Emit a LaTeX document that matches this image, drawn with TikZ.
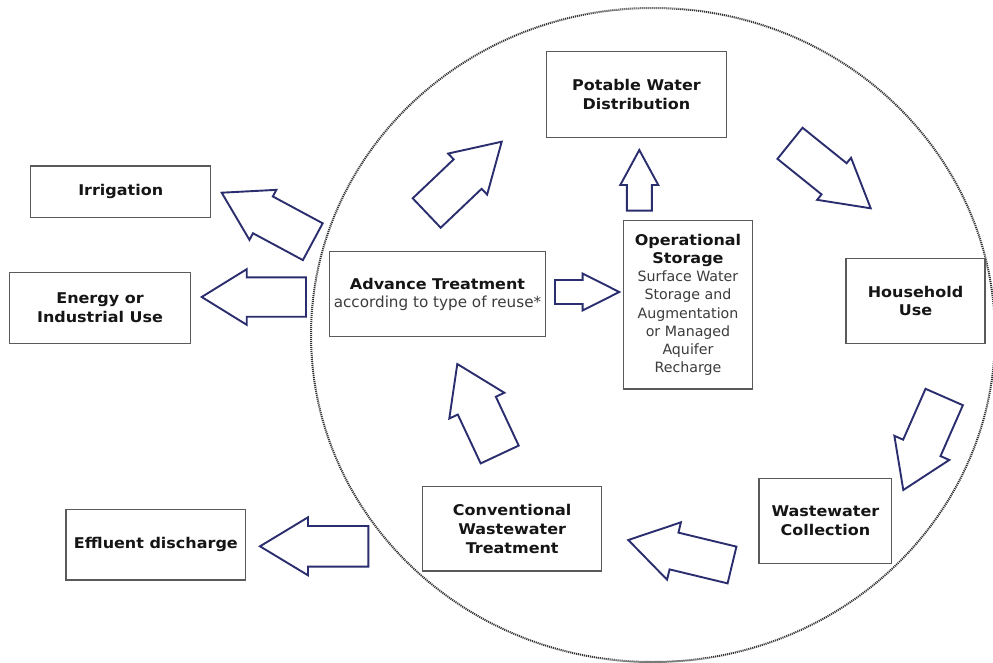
\documentclass[tikz,border=0pt]{standalone}
\usepackage{fontspec}
\setmainfont{DejaVu Sans}[BoldFeatures={FakeStretch=1.08}]
\usetikzlibrary{calc}
\definecolor{navy}{HTML}{2B2E6E}
\definecolor{boxgray}{HTML}{5A5A5A}
\definecolor{txtdark}{HTML}{151515}
\definecolor{txtgray}{HTML}{3C3C3C}
\definecolor{dotgray}{HTML}{333333}
\newcommand\blockarrow[5]{%
  \coordinate (ba-neck) at ($(#2)!#5!(#1)$);
  \draw[blockarr] ($(#1)!#3!90:(#2)$) -- ($(ba-neck)!#3!-90:(#1)$) -- ($(ba-neck)!#4!-90:(#1)$)
    -- (#2) -- ($(ba-neck)!#4!90:(#1)$) -- ($(ba-neck)!#3!90:(#1)$) -- ($(#1)!#3!-90:(#2)$) -- cycle;}
\newcommand\lighttext[1]{{\color{txtgray}\mdseries #1}}
\begin{document}
\begin{tikzpicture}[x=1pt,y=-1pt,
  box/.style={draw=boxgray, line width=1.2pt, fill=white, inner sep=0pt, align=center,
    text=txtdark, font=\fontsize{14.8}{18.6}\selectfont\bfseries},
  blockarr/.style={draw=navy, line width=1.9pt, fill=white, line join=miter},
  cyclering/.style={draw=dotgray, line width=2pt, dash pattern=on 1.1pt off 0.9pt}]
\useasboundingbox[fill=white] (0,0) rectangle (993,663);
% dotted boundary of the cycle
\draw[cyclering] (653,335) ellipse [x radius=342, y radius=327];

% boxes
\node[box, minimum width=179.3pt, minimum height=86pt] (pot) at (636.5,94.2) {Potable Water\\Distribution};
\node[box, minimum width=180pt, minimum height=51.3pt] (irr) at (120.7,191.7) {Irrigation};
\node[box, minimum width=181.4pt, minimum height=70.6pt] (ene) at (100,308) {Energy or\\Industrial Use};
\node[box, minimum width=216.4pt, minimum height=85pt] (adv) at (437.5,294.2)
  {Advance Treatment\\[-0.5pt]\lighttext{\fontsize{15.2}{18.6}\selectfont according to type of reuse*}};
\node[box, minimum width=129.4pt, minimum height=168.3pt, font=\fontsize{14.8}{18.2}\selectfont\bfseries] (ops) at (688,304.9)
  {Operational\\Storage\\\lighttext{\fontsize{14.2}{18.2}\selectfont Surface Water}\\\lighttext{\fontsize{14.2}{18.2}\selectfont Storage and}\\\lighttext{\fontsize{14.2}{18.2}\selectfont Augmentation}\\\lighttext{\fontsize{14.2}{18.2}\selectfont or Managed}\\\lighttext{\fontsize{14.2}{18.2}\selectfont Aquifer}\\\lighttext{\fontsize{14.2}{18.2}\selectfont Recharge}};
\node[box, minimum width=139pt, minimum height=85.5pt] (hou) at (915.5,301) {Household\\Use};
\node[box, minimum width=132.7pt, minimum height=85pt] (wwc) at (825.4,520.8) {Wastewater\\Collection};
\node[box, minimum width=179pt, minimum height=84.3pt] (cwt) at (512.2,528.9) {Conventional\\Wastewater\\Treatment};
\node[box, minimum width=179.7pt, minimum height=70.7pt] (eff) at (155.9,544.7) {Effluent discharge};

% arrow end points
\coordinate (a1t) at (426.7,213);   \coordinate (a1h) at (501.7,141.7);
\coordinate (a2t) at (639.3,210.7); \coordinate (a2h) at (639.3,150);
\coordinate (a3t) at (790,143.3);   \coordinate (a3h) at (870.7,208.3);
\coordinate (a4t) at (944.2,397);   \coordinate (a4h) at (903.3,490);
\coordinate (a5t) at (732,565);     \coordinate (a5h) at (628.3,540);
\coordinate (a6t) at (499.7,454.5); \coordinate (a6h) at (457.3,364);
\coordinate (a7t) at (555,292);     \coordinate (a7h) at (619.3,292);
\coordinate (a8t) at (312.8,241.7); \coordinate (a8h) at (221.7,192.7);
\coordinate (a9t) at (306,297);     \coordinate (a9h) at (201.7,297);
\coordinate (a10t) at (368.3,546.3); \coordinate (a10h) at (260,546.3);

% block arrows
\blockarrow{a1t}{a1h}{20.3pt}{28.3pt}{47pt}
\blockarrow{a2t}{a2h}{12.5pt}{19pt}{35pt}
\blockarrow{a3t}{a3h}{20pt}{27pt}{47pt}
\blockarrow{a4t}{a4h}{20.4pt}{30pt}{46pt}
\blockarrow{a5t}{a5h}{18.9pt}{29.5pt}{47pt}
\blockarrow{a6t}{a6h}{21pt}{30.4pt}{46pt}
\blockarrow{a7t}{a7h}{12pt}{18.5pt}{36.7pt}
\blockarrow{a8t}{a8h}{20.9pt}{28.4pt}{46.8pt}
\blockarrow{a9t}{a9h}{19.7pt}{27.8pt}{45pt}
\blockarrow{a10t}{a10h}{20.3pt}{29pt}{48pt}
\end{tikzpicture}
\end{document}
